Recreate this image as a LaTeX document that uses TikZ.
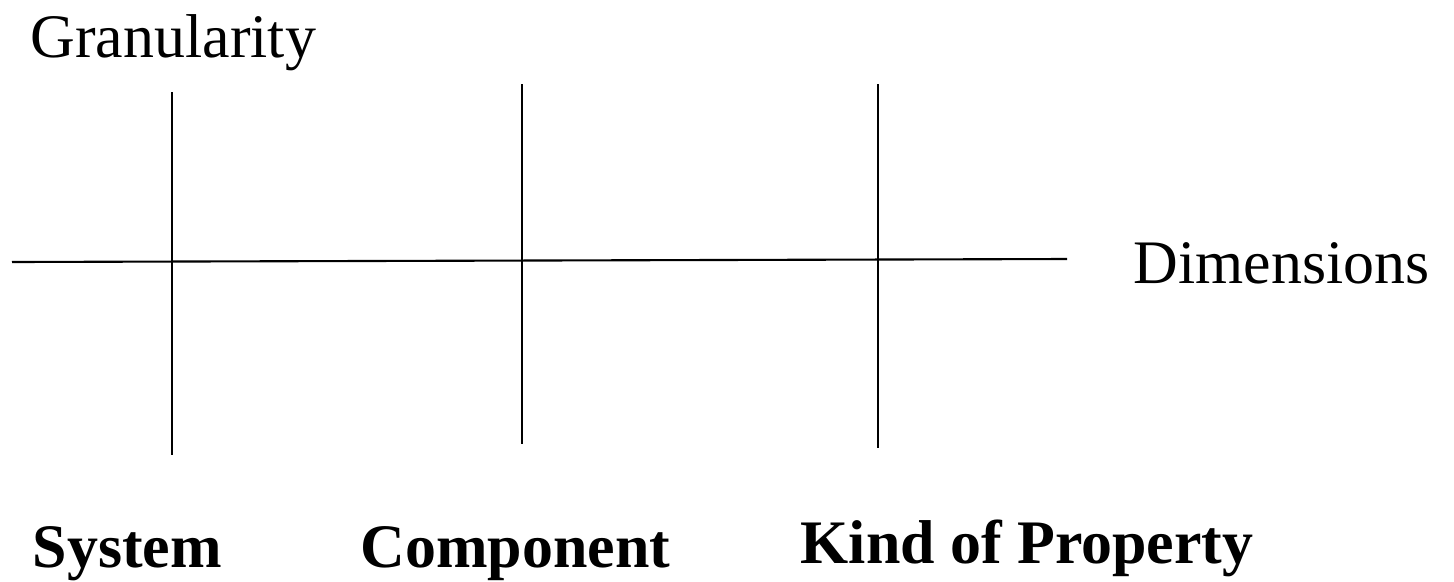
\documentclass[tikz,border=0pt]{standalone}
\usepackage{fontspec}
\setmainfont{Liberation Serif}
\usepackage{tikz}
\usetikzlibrary{positioning}

\begin{document}
\begin{tikzpicture}[x=0.01cm, y=-0.01cm]
    % Styles:
    \tikzset{axis/.style={line width=0.6pt, black}}
    \tikzset{lbl/.style={anchor=base west, inner sep=0pt, font=\fontsize{17.6pt}{21pt}\selectfont}}
    \tikzset{kind/.style={lbl, font=\fontsize{17.6pt}{21pt}\selectfont\bfseries}}

    \useasboundingbox (0,0) rectangle (1454,581);

    % Axis ends:
    \coordinate (hl) at (12,262);
    \coordinate (hr) at (1067,259);
    \coordinate (sysT) at (172,92);
    \coordinate (sysB) at (172,455);
    \coordinate (comT) at (522,84);
    \coordinate (comB) at (522,444);
    \coordinate (kopT) at (878,84);
    \coordinate (kopB) at (878,448);

    % Lines:
    \draw[axis] (hl) -- (hr);
    \draw[axis] (sysT) -- (sysB);
    \draw[axis] (comT) -- (comB);
    \draw[axis] (kopT) -- (kopB);

    % Labels:
    \node[lbl] (gran) at (30,57) {Granularity};
    \node[lbl] (dim)  at (1133,283) {Dimensions};
    \node[kind] (sys) at (32,567) {System};
    \node[kind] (com) at (360,567) {Component};
    \node[kind] (kop) at (800,563) {Kind of Property};
\end{tikzpicture}
\end{document}
